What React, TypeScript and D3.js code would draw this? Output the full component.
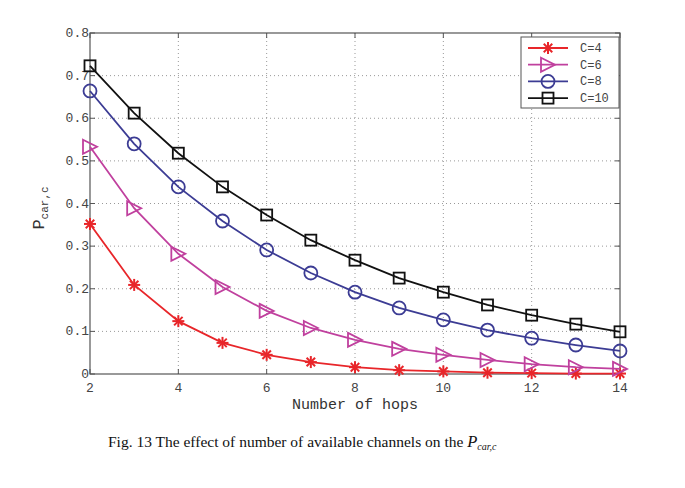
import React from 'react'
import * as d3 from 'd3'

const hops = [2, 3, 4, 5, 6, 7, 8, 9, 10, 11, 12, 13, 14]
const c4 = [0.352, 0.209, 0.124, 0.073, 0.045, 0.028, 0.016, 0.009, 0.006, 0.003, 0.002, 0.001, 0.001]
const c6 = [0.533, 0.389, 0.282, 0.204, 0.148, 0.108, 0.08, 0.059, 0.045, 0.033, 0.023, 0.016, 0.012]
const c8 = [0.664, 0.54, 0.439, 0.359, 0.291, 0.237, 0.192, 0.155, 0.127, 0.103, 0.084, 0.068, 0.054]
const c10 = [0.723, 0.612, 0.518, 0.439, 0.373, 0.314, 0.267, 0.225, 0.192, 0.162, 0.138, 0.117, 0.099]
const xTicks = [2, 4, 6, 8, 10, 12, 14]
const yTicks = [0, 0.1, 0.2, 0.3, 0.4, 0.5, 0.6, 0.7, 0.8]
const seriesNames = ['C=4', 'C=6', 'C=8', 'C=10']

const series = [
  { name: seriesNames[0], values: c4, color: '#e8262a', marker: 'star' },
  { name: seriesNames[1], values: c6, color: '#c0409e', marker: 'tri' },
  { name: seriesNames[2], values: c8, color: '#3c3c94', marker: 'circle' },
  { name: seriesNames[3], values: c10, color: '#111111', marker: 'square' },
]

const W = 685
const H = 488
const left = 90
const right = 620
const top = 33
const bottom = 374
const mono = '"Liberation Mono", "DejaVu Sans Mono", monospace'

function Marker({ type, x, y, color }: { type: string; x: number; y: number; color: string }) {
  if (type === 'star') {
    const r = 6
    const arms = [0, 45, 90, 135].map((a) => {
      const t = (a * Math.PI) / 180
      return (
        <line
          key={a}
          x1={x - r * Math.cos(t)}
          y1={y - r * Math.sin(t)}
          x2={x + r * Math.cos(t)}
          y2={y + r * Math.sin(t)}
          stroke={color}
          strokeWidth={2}
        />
      )
    })
    return <g>{arms}</g>
  }
  if (type === 'tri') {
    const s = 7
    return (
      <path
        d={`M${x - s},${y - s}L${x + s},${y}L${x - s},${y + s}Z`}
        fill="none"
        stroke={color}
        strokeWidth={1.8}
      />
    )
  }
  if (type === 'circle') {
    return <circle cx={x} cy={y} r={6.5} fill="none" stroke={color} strokeWidth={1.8} />
  }
  return <rect x={x - 5.5} y={y - 5.5} width={11} height={11} fill="none" stroke={color} strokeWidth={1.8} />
}

export default function App() {
  const x = d3.scaleLinear().domain([2, 14]).range([left, right])
  const y = d3.scaleLinear().domain([0, 0.8]).range([bottom, top])
  const line = d3
    .line<number>()
    .x((_, i) => x(hops[i]))
    .y((d) => y(d))

  return (
    <svg width={W} height={H} style={{ position: 'absolute', left: 0, top: 0 }}>
      <rect width={W} height={H} fill="white" />
      {/* grid */}
      {xTicks.slice(1, -1).map((t) => (
        <line key={'gx' + t} x1={x(t)} x2={x(t)} y1={top} y2={bottom} stroke="#999" strokeDasharray="1,3" />
      ))}
      {yTicks.slice(1, -1).map((t) => (
        <line key={'gy' + t} x1={left} x2={right} y1={y(t)} y2={y(t)} stroke="#999" strokeDasharray="1,3" />
      ))}
      {/* ticks */}
      {xTicks.map((t) => (
        <g key={'tx' + t} stroke="#555">
          <line x1={x(t)} x2={x(t)} y1={bottom} y2={bottom - 5} />
          <line x1={x(t)} x2={x(t)} y1={top} y2={top + 5} />
        </g>
      ))}
      {yTicks.map((t) => (
        <g key={'ty' + t} stroke="#555">
          <line x1={left} x2={left + 5} y1={y(t)} y2={y(t)} />
          <line x1={right} x2={right - 5} y1={y(t)} y2={y(t)} />
        </g>
      ))}
      <rect x={left} y={top} width={right - left} height={bottom - top} fill="none" stroke="#555" strokeWidth={1.2} />
      {/* tick labels */}
      {xTicks.map((t) => (
        <text key={'lx' + t} x={x(t)} y={bottom + 18} textAnchor="middle" fontFamily={mono} fontSize={13} fill="#444">
          {t}
        </text>
      ))}
      {yTicks.map((t) => (
        <text key={'ly' + t} x={left - 1} y={y(t) + 4} textAnchor="end" fontFamily={mono} fontSize={13} fill="#444">
          {t === 0 ? '0' : t.toFixed(1)}
        </text>
      ))}
      {/* series */}
      {series.map((s) => (
        <g key={s.name}>
          <path d={line(s.values) || ''} fill="none" stroke={s.color} strokeWidth={1.8} />
          {s.values.map((v, i) => (
            <Marker key={i} type={s.marker} x={x(hops[i])} y={y(v)} color={s.color} />
          ))}
        </g>
      ))}
      {/* legend */}
      <rect x={521} y={37} width={98} height={71} fill="white" stroke="#555" strokeWidth={1} />
      {series.map((s, i) => {
        const ly = 48 + i * 16.7
        return (
          <g key={'lg' + s.name}>
            <line x1={528} x2={568} y1={ly} y2={ly} stroke={s.color} strokeWidth={1.8} />
            <Marker type={s.marker} x={548} y={ly} color={s.color} />
            <text x={580} y={ly + 4} fontFamily={mono} fontSize={12} fill="#444">
              {s.name}
            </text>
          </g>
        )
      })}
      {/* axis labels */}
      <text x={(left + right) / 2} y={409} textAnchor="middle" fontFamily={mono} fontSize={15} fill="#333">
        Number of hops
      </text>
      <text transform="translate(44,208) rotate(-90)" textAnchor="middle" fontFamily={mono} fill="#333">
        <tspan fontSize={17}>P</tspan>
        <tspan fontSize={11} dy={4}>car,c</tspan>
      </text>
      {/* caption */}
      <text x={108} y={447} fontFamily='"Liberation Serif", "Times New Roman", serif' fontSize={15.5} fill="#111">
        Fig. 13 The effect of number of available channels on the{' '}
        <tspan fontStyle="italic" fontSize={16.5}>P</tspan>
        <tspan fontStyle="italic" fontSize={10} dy={3}>car,c</tspan>
      </text>
    </svg>
  )
}
